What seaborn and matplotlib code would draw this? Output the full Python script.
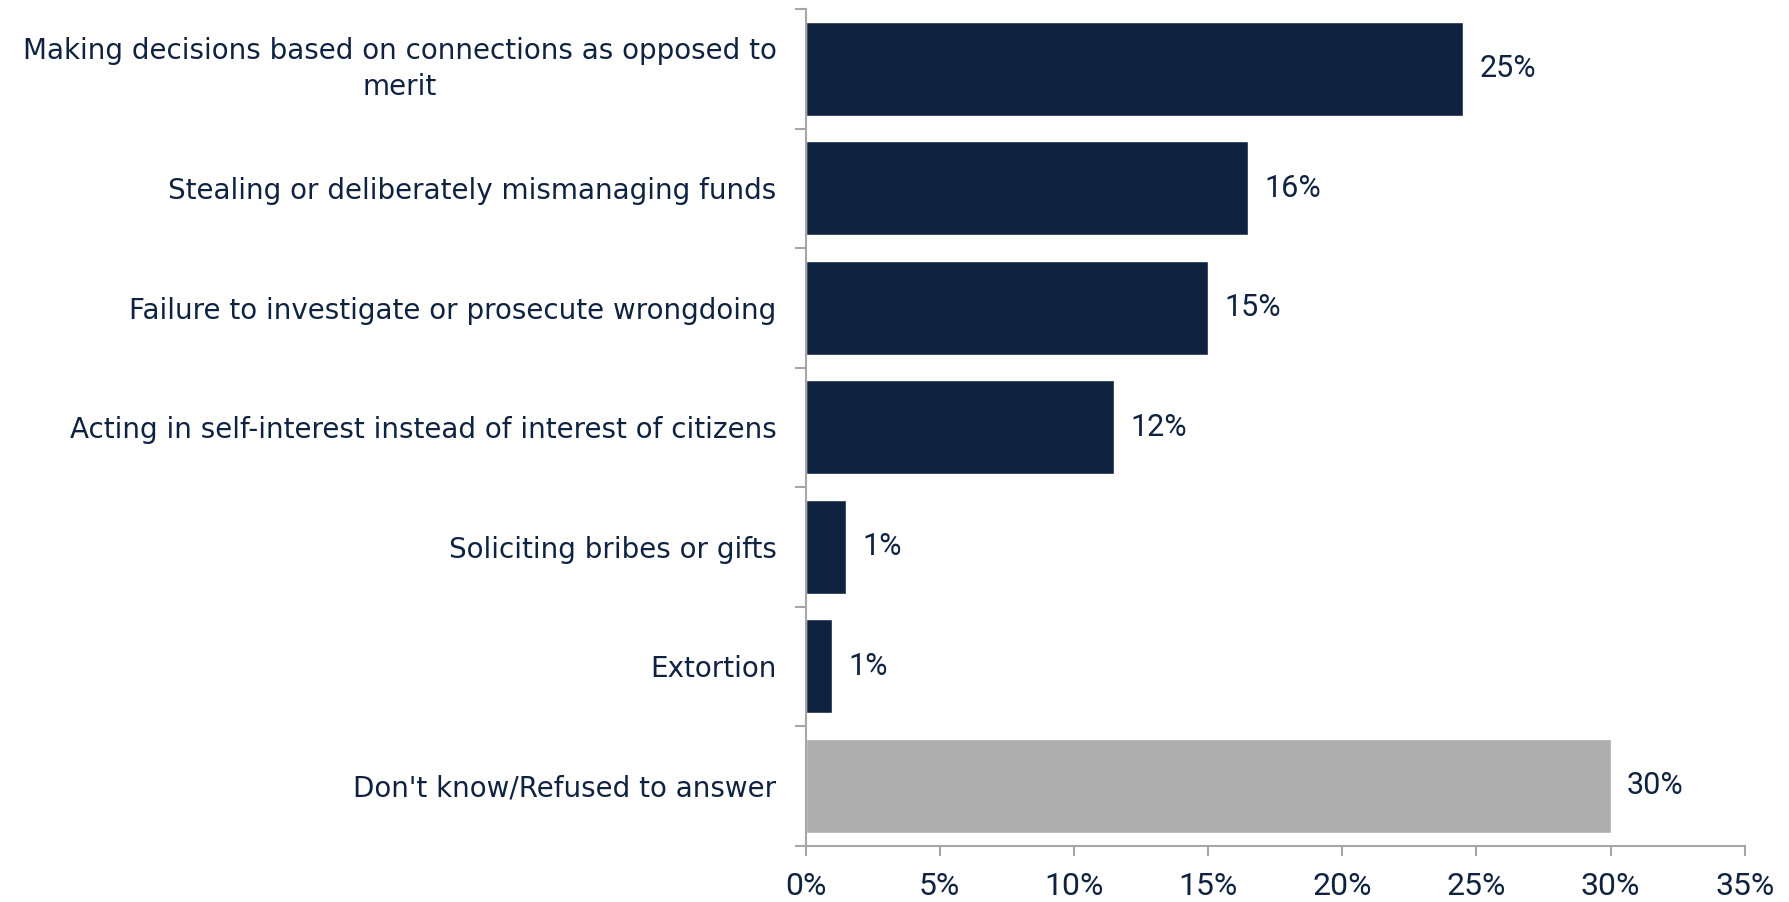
import numpy as np
import pandas as pd
import seaborn as sns
import matplotlib.pyplot as plt
from matplotlib.ticker import FixedLocator, PercentFormatter

categories = [
    "Making decisions based on connections as opposed to\nmerit",
    "Stealing or deliberately mismanaging funds",
    "Failure to investigate or prosecute wrongdoing",
    "Acting in self-interest instead of interest of citizens",
    "Soliciting bribes or gifts",
    "Extortion",
    "Don't know/Refused to answer",
]
values = [24.5, 16.5, 15.0, 11.5, 1.5, 1.0, 30.0]
value_labels = ["25%", "16%", "15%", "12%", "1%", "1%", "30%"]
groups = ["answer", "answer", "answer", "answer", "answer", "answer", "dk"]

navy = "#0F2341"
grey = "#ADADAD"
axis_grey = "#A6A6A6"

df = pd.DataFrame({"category": categories, "value": values, "group": groups})

sns.set_style("white")
plt.rcParams["font.family"] = ["DejaVu Sans"]
num_font = ["Roboto", "DejaVu Sans"]

fig = plt.figure(figsize=(17.89, 9.02), dpi=100)
ax = fig.add_axes([0.4503, 0.0626, 0.525, 0.9274])

sns.barplot(data=df, x="value", y="category", hue="group",
            palette={"answer": navy, "dk": grey}, dodge=False,
            width=0.79, legend=False, ax=ax, saturation=1)

ax.set_xlim(0, 35)
ax.set_ylim(6.5, -0.5)
ax.set_xticks(np.arange(0, 36, 5))
ax.xaxis.set_major_formatter(PercentFormatter(decimals=0))
ax.set_xlabel("")
ax.set_ylabel("")

# value labels at bar ends
for i, (v, lab) in enumerate(zip(values, value_labels)):
    ax.text(v + 0.6, i, lab, va="center", ha="left", fontsize=22,
            color=navy, family=num_font)

for s in ["top", "right"]:
    ax.spines[s].set_visible(False)
for s in ["left", "bottom"]:
    ax.spines[s].set_color(axis_grey)
    ax.spines[s].set_linewidth(1.5)

# category ticks sit between the bars
ax.yaxis.set_minor_locator(FixedLocator(np.arange(-0.5, 7, 1)))
ax.tick_params(axis="y", which="major", left=True, length=0, pad=21,
               labelsize=20, labelcolor=navy)
ax.tick_params(axis="y", which="minor", left=True, length=8, width=1.5,
               color=axis_grey, direction="out")
ax.tick_params(axis="x", which="major", bottom=True, length=7, width=1.5,
               color=axis_grey, direction="out", pad=12, labelsize=23,
               labelcolor=navy)
for t in ax.get_yticklabels():
    t.set_multialignment("center")
    t.set_linespacing(1.35)
    if "\n" in t.get_text():
        t.set_va("center")
for t in ax.get_xticklabels():
    t.set_family(num_font)

fig.savefig("out.png", dpi=100)
